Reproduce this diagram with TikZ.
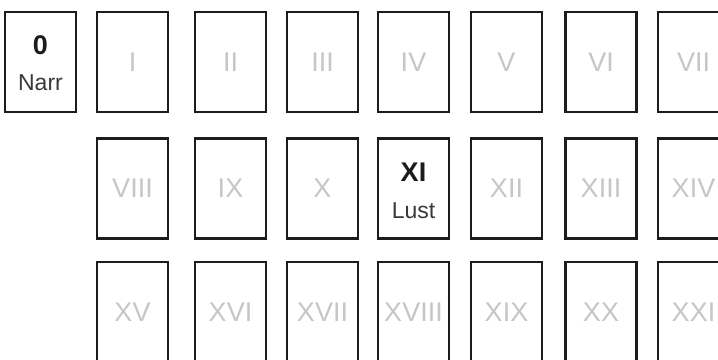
\documentclass[tikz,border=0pt]{standalone}
\usepackage{fontspec}
\setmainfont{Liberation Sans}
\usetikzlibrary{positioning}
\definecolor{ink}{HTML}{1C1C1C}
\definecolor{textgray}{HTML}{3A3A3A}
\definecolor{faint}{HTML}{C6C6C6}
\tikzset{
  card/.style={draw=ink,line width=2.2pt,fill=white,minimum width=71pt,minimum height=100pt,inner sep=0pt},
  ghost/.style={card,text=faint,font=\fontsize{27}{30}\selectfont},
  cardnum/.style={inner sep=0pt,text=ink,font=\bfseries\fontsize{27}{30}\selectfont},
  cardname/.style={inner sep=0pt,text=textgray,font=\fontsize{23}{26}\selectfont},
}

\begin{document}
\begin{tikzpicture}[x=1pt,y=-1pt]
    \useasboundingbox (0,0) rectangle (718,359);
    \clip (0,0) rectangle (718,359);
    \fill[white] (0,0) rectangle (718,359);
    % first row
    \node[card] (t0) at (40.5,62) {};
    \node[cardnum,below=25pt of t0.north] (t0num) {0};
    \node[cardname,below=64pt of t0.north] (t0name) {Narr};
    \node[ghost] (t1) at (132.5,62) {I};
    \node[ghost] (t2) at (230.5,62) {II};
    \node[ghost] (t3) at (322.5,62) {III};
    \node[ghost] (t4) at (413.5,62) {IV};
    \node[ghost] (t5) at (506.5,62) {V};
    \node[ghost] (t6) at (601,62) {VI};
    \node[ghost] (t7) at (693.5,62) {VII};
    % second row
    \node[ghost] (t8) at (132.5,188.5) {VIII};
    \node[ghost] (t9) at (230.5,188.5) {IX};
    \node[ghost] (t10) at (322.5,188.5) {X};
    \node[card] (t11) at (413.5,188.5) {};
    \node[cardnum,below=25pt of t11.north] (t11num) {XI};
    \node[cardname,below=65pt of t11.north] (t11name) {Lust};
    \node[ghost] (t12) at (506.5,188.5) {XII};
    \node[ghost] (t13) at (601,188.5) {XIII};
    \node[ghost] (t14) at (693.5,188.5) {XIV};
    % third row
    \node[ghost] (t15) at (132.5,312) {XV};
    \node[ghost] (t16) at (230.5,312) {XVI};
    \node[ghost] (t17) at (322.5,312) {XVII};
    \node[ghost] (t18) at (413.5,312) {XVIII};
    \node[ghost] (t19) at (506.5,312) {XIX};
    \node[ghost] (t20) at (601,312) {XX};
    \node[ghost] (t21) at (693.5,312) {XXI};
  \end{tikzpicture}
\end{document}
